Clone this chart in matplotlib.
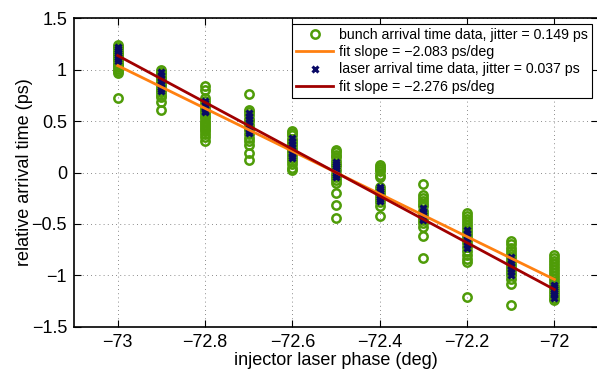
import matplotlib
matplotlib.use("Agg")
import matplotlib.pyplot as plt
from matplotlib.ticker import FixedLocator

plt.rcParams['font.family'] = ['Liberation Sans', 'DejaVu Sans']

phases = [-73.0, -72.9, -72.8, -72.7, -72.6, -72.5, -72.4, -72.3, -72.2, -72.1, -72.0]

bunch_data = [
    [1.24, 1.22, 1.21, 1.18, 1.16, 1.15, 1.13, 1.11, 1.10, 1.08, 1.06, 1.05, 1.03, 1.01, 0.99, 0.97, 0.72],
    [1.00, 0.98, 0.96, 0.93, 0.91, 0.88, 0.86, 0.85, 0.82, 0.80, 0.78, 0.75, 0.73, 0.69, 0.61],
    [0.84, 0.80, 0.72, 0.70, 0.67, 0.65, 0.62, 0.60, 0.58, 0.55, 0.53, 0.50, 0.48, 0.46, 0.44, 0.42, 0.40, 0.37, 0.35, 0.31],
    [0.76, 0.61, 0.59, 0.56, 0.52, 0.50, 0.46, 0.43, 0.41, 0.37, 0.34, 0.31, 0.27, 0.19, 0.12],
    [0.40, 0.38, 0.36, 0.33, 0.31, 0.29, 0.27, 0.24, 0.22, 0.20, 0.17, 0.14, 0.11, 0.08, 0.04, 0.02],
    [0.22, 0.20, 0.17, 0.15, 0.11, 0.08, 0.06, 0.02, -0.01, -0.04, -0.07, -0.10, -0.20, -0.32, -0.44],
    [0.07, 0.05, 0.03, 0.01, -0.02, -0.04, -0.14, -0.17, -0.20, -0.23, -0.26, -0.29, -0.33, -0.42],
    [-0.11, -0.22, -0.25, -0.28, -0.31, -0.33, -0.37, -0.40, -0.43, -0.46, -0.49, -0.53, -0.62, -0.83],
    [-0.39, -0.42, -0.45, -0.48, -0.51, -0.54, -0.57, -0.60, -0.63, -0.66, -0.69, -0.72, -0.76, -0.80, -0.84, -0.87, -1.21],
    [-0.67, -0.70, -0.73, -0.76, -0.79, -0.82, -0.85, -0.88, -0.91, -0.94, -0.97, -1.00, -1.04, -1.08, -1.29],
    [-0.80, -0.83, -0.86, -0.89, -0.92, -0.95, -0.98, -1.01, -1.04, -1.07, -1.10, -1.13, -1.16, -1.19, -1.22, -1.24],
]

laser_data = [
    [1.22, 1.20, 1.18, 1.16, 1.14, 1.12, 1.10, 1.08],
    [0.98, 0.95, 0.92, 0.89, 0.86, 0.83, 0.81, 0.79],
    [0.70, 0.68, 0.66, 0.64, 0.62, 0.60, 0.59],
    [0.58, 0.55, 0.52, 0.49, 0.46, 0.43, 0.40, 0.38],
    [0.34, 0.31, 0.28, 0.25, 0.22, 0.19, 0.16, 0.14],
    [0.10, 0.08, 0.06, 0.04, 0.02, 0.00, -0.02, -0.04],
    [-0.14, -0.16, -0.18, -0.20, -0.22, -0.24, -0.26, -0.28],
    [-0.35, -0.37, -0.39, -0.41, -0.43, -0.45, -0.46],
    [-0.56, -0.59, -0.62, -0.65, -0.68, -0.71, -0.73],
    [-0.82, -0.85, -0.88, -0.91, -0.94, -0.97, -1.00],
    [-1.09, -1.11, -1.13, -1.15, -1.17, -1.19, -1.22],
]

fit_x = [-73.0, -72.0]
bunch_fit_y = [1.04, -1.04]
laser_fit_y = [1.138, -1.138]

labels = ['bunch arrival time data, jitter = 0.149 ps',
          'fit slope = \u22122.083 ps/deg',
          'laser arrival time data, jitter = 0.037 ps',
          'fit slope = \u22122.276 ps/deg']

xticks = [-73.0, -72.8, -72.6, -72.4, -72.2, -72.0]
xticklabels = ['\u221273', '\u221272.8', '\u221272.6', '\u221272.4', '\u221272.2', '\u221272']
yticks = [-1.5, -1.0, -0.5, 0.0, 0.5, 1.0, 1.5]
yticklabels = ['\u22121.5', '\u22121', '\u22120.5', '0', '0.5', '1', '1.5']

green = '#4f9c08'
orange = '#ff8010'
darkred = '#a00000'
navy = '#0a0a66'

fig = plt.figure(figsize=(5.97, 3.72), dpi=100)
ax = fig.add_axes([74/597, 45.3/372, 524/597, 308.4/372])

bx = [p for p, ys in zip(phases, bunch_data) for _ in ys]
by = [y for ys in bunch_data for y in ys]
lx = [p for p, ys in zip(phases, laser_data) for _ in ys]
ly = [y for ys in laser_data for y in ys]

h1, = ax.plot(bx, by, 'o', ls='none', mfc='none', mec=green, ms=6, mew=1.8, zorder=3)
h3, = ax.plot(lx, ly, 'x', ls='none', color=navy, ms=4, mew=2.2, zorder=4)
h2, = ax.plot(fit_x, bunch_fit_y, '-', color=orange, lw=2.0, zorder=5)
h4, = ax.plot(fit_x, laser_fit_y, '-', color=darkred, lw=2.0, zorder=6)

ax.set_xlim(-73.1, -71.9)
ax.set_ylim(-1.5, 1.5)
ax.xaxis.set_major_locator(FixedLocator(xticks))
ax.set_xticklabels(xticklabels)
ax.yaxis.set_major_locator(FixedLocator(yticks))
ax.set_yticklabels(yticklabels)
ax.tick_params(direction='in', top=True, right=True, length=5, width=0.8, labelsize=13, pad=5)
ax.grid(True, ls=(0, (1, 4)), color='#666666', lw=0.6)
for s in ax.spines.values():
    s.set_linewidth(1.2)

ax.set_xlabel('injector laser phase (deg)', fontsize=13, labelpad=1)
ax.set_ylabel('relative arrival time (ps)', fontsize=13, labelpad=-1)

leg = ax.legend([h1, h2, h3, h4], labels, loc='upper right', bbox_to_anchor=(592/597, 1 - 24/372),
                bbox_transform=fig.transFigure, fontsize=10.2, frameon=True, fancybox=False,
                edgecolor='black', framealpha=1, borderpad=0.3, labelspacing=0.22,
                handlelength=2.6, handletextpad=0.4, borderaxespad=0)
leg.get_frame().set_linewidth(0.8)

fig.savefig('out.png', dpi=100)
